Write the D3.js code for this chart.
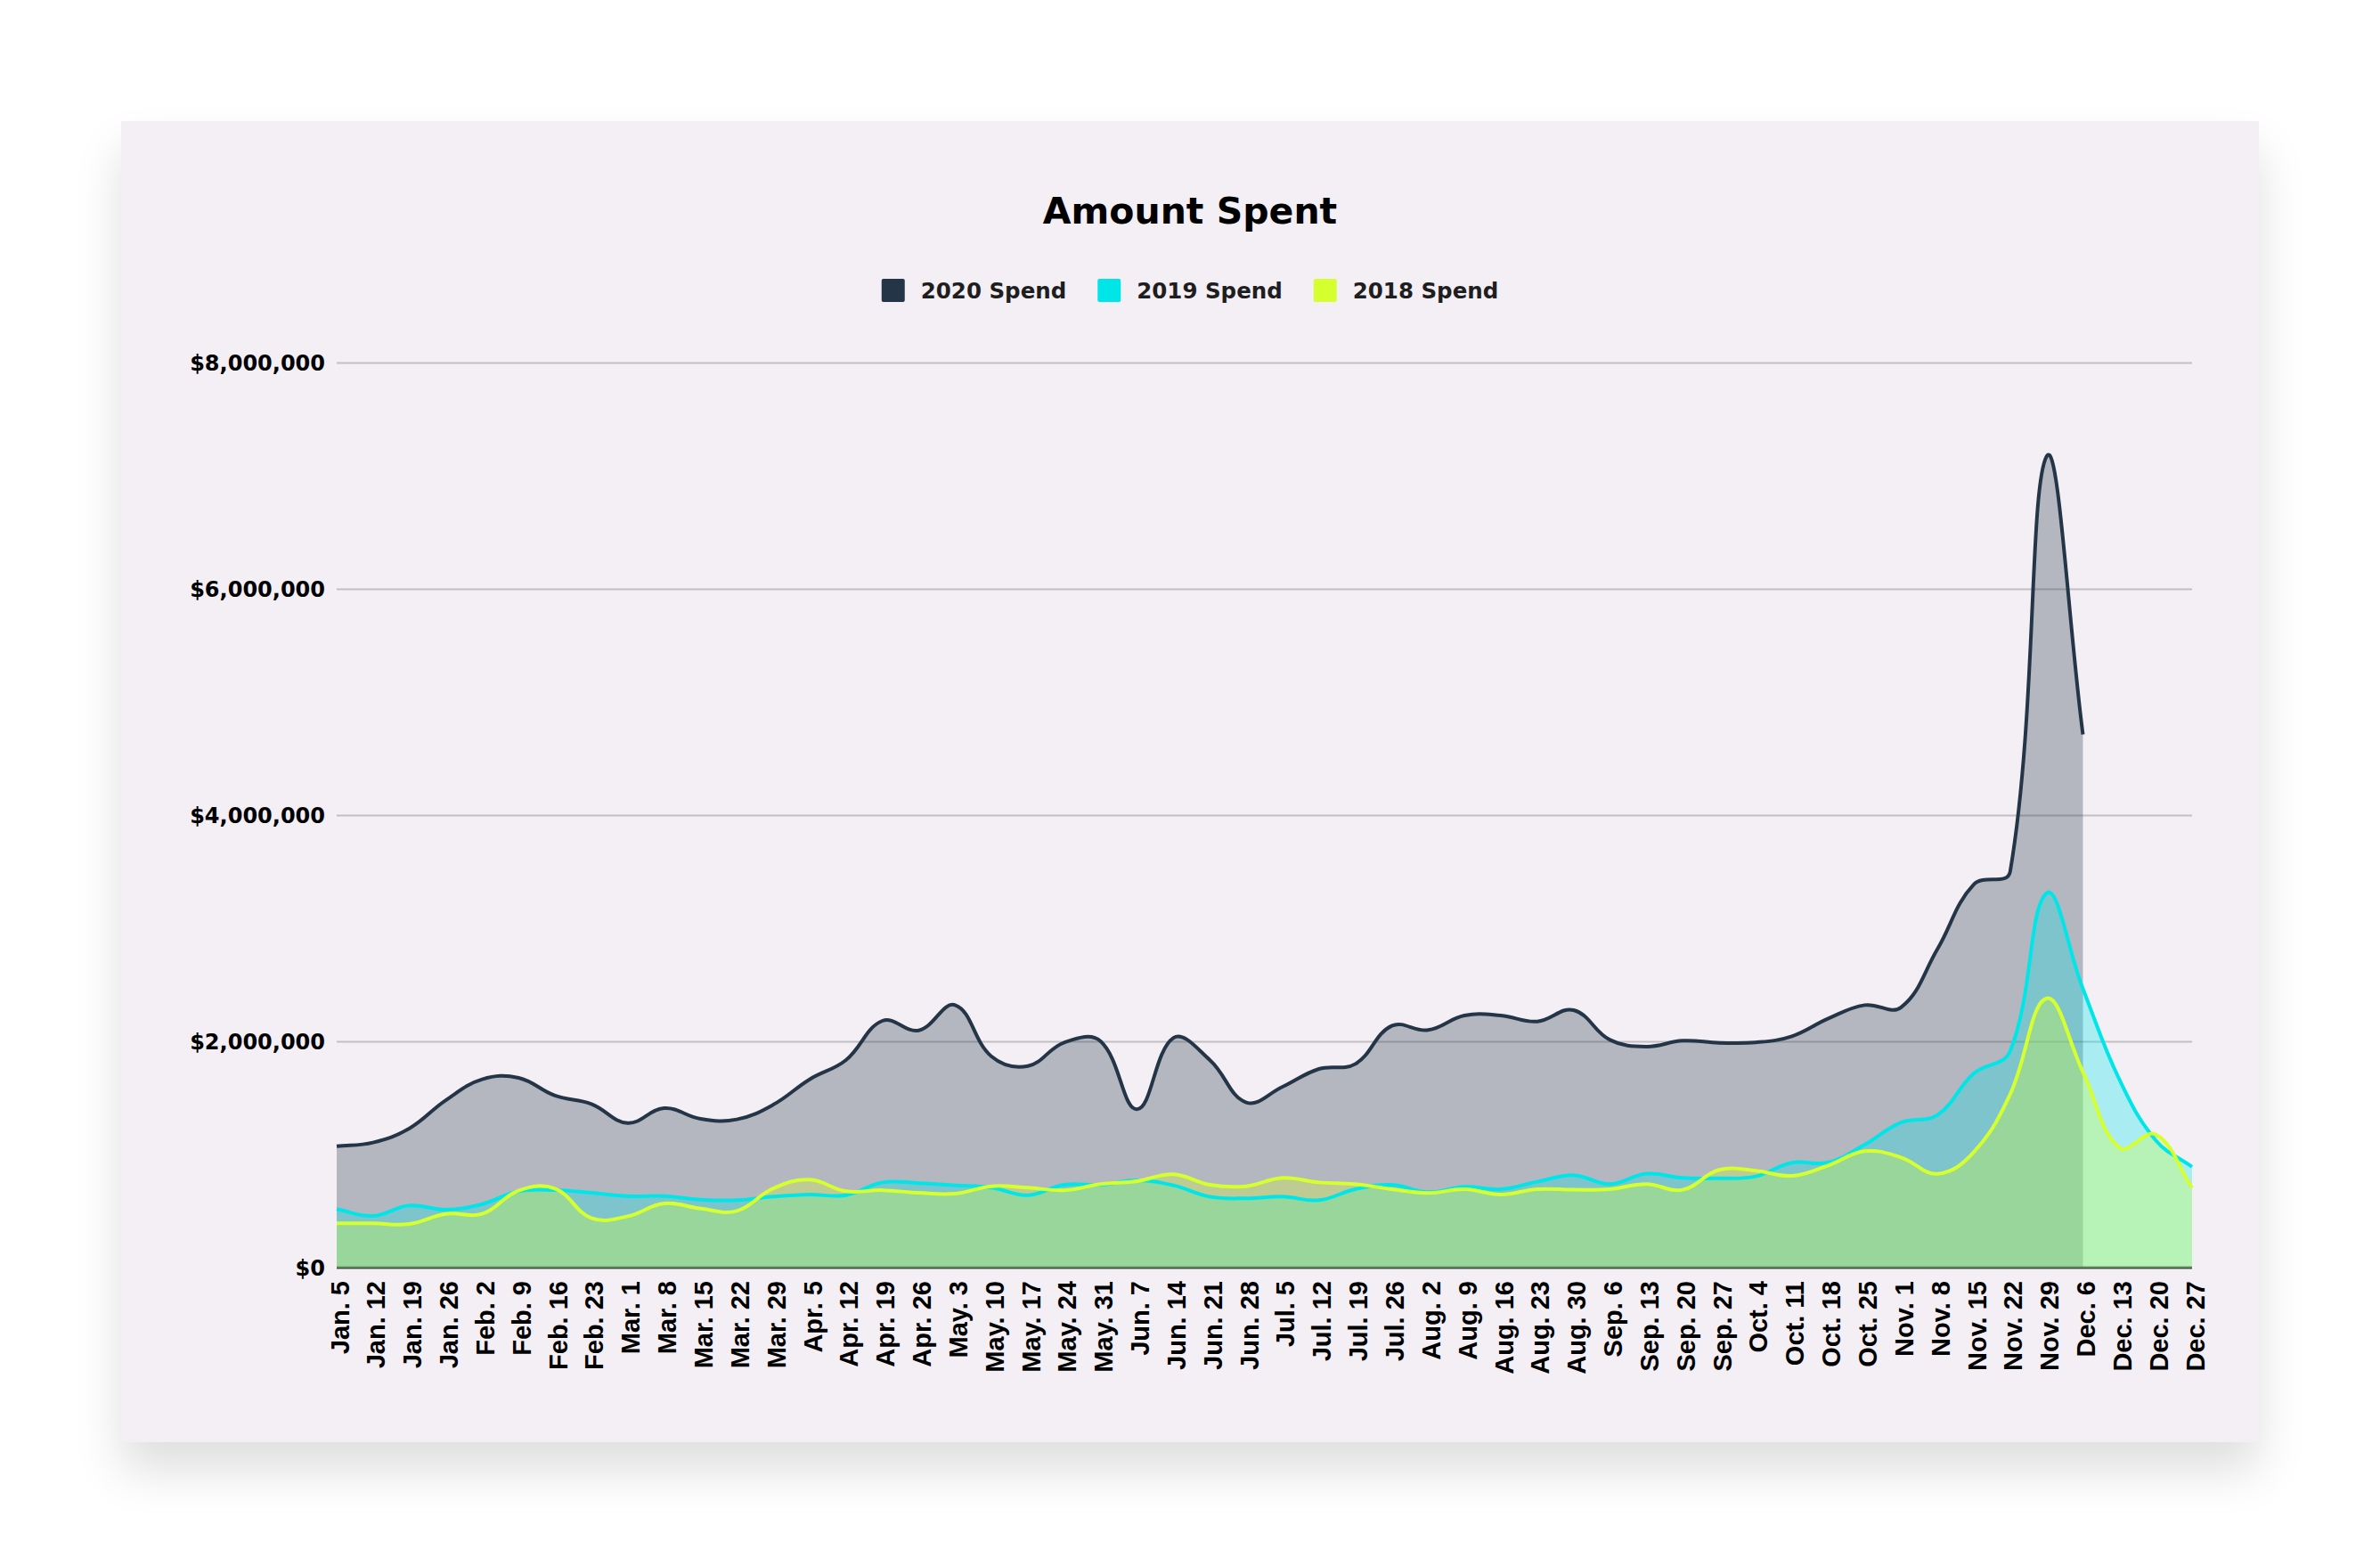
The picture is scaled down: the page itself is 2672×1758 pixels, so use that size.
<!DOCTYPE html>
<html>
<head>
<meta charset="utf-8">
<script src="https://cdn.jsdelivr.net/npm/d3@7"></script>
<style>
  html, body { margin: 0; padding: 0; background: #ffffff; }
  body { width: 2672px; height: 1758px; position: relative; overflow: hidden; }
  #card { position: absolute; left: 136px; top: 136px; width: 2400px; height: 1483px;
          background: #f3eff5; box-shadow: 0 32px 50px rgba(0,0,0,0.13); }
  svg { position: absolute; left: 0; top: 0; }
</style>
</head>
<body>
<div id="card"></div>
<svg id="chart" width="2672" height="1758"></svg>
<script>
const weeks = ["Jan. 5","Jan. 12","Jan. 19","Jan. 26","Feb. 2","Feb. 9","Feb. 16","Feb. 23",
  "Mar. 1","Mar. 8","Mar. 15","Mar. 22","Mar. 29","Apr. 5","Apr. 12","Apr. 19","Apr. 26",
  "May. 3","May. 10","May. 17","May. 24","May. 31","Jun. 7","Jun. 14","Jun. 21","Jun. 28",
  "Jul. 5","Jul. 12","Jul. 19","Jul. 26","Aug. 2","Aug. 9","Aug. 16","Aug. 23","Aug. 30",
  "Sep. 6","Sep. 13","Sep. 20","Sep. 27","Oct. 4","Oct. 11","Oct. 18","Oct. 25",
  "Nov. 1","Nov. 8","Nov. 15","Nov. 22","Nov. 29","Dec. 6","Dec. 13","Dec. 20","Dec. 27"];

const spend2020 = [1073000,1105000,1231000,1480000,1664000,1677000,1520000,1446000,
  1278000,1409000,1315000,1310000,1440000,1664000,1835000,2181000,2097000,
  2320000,1866000,1782000,1990000,2000000,1400000,2030000,1835000,1460000,
  1598000,1756000,1800000,2137000,2100000,2228000,2228000,2176000,2276000,
  2013000,1953000,2005000,1987000,1990000,2045000,2202000,2320000,
  2300000,2815000,3387000,3500000,7170000,4713000];

const spend2019 = [517000,457000,549000,512000,561000,675000,685000,661000,
  632000,632000,601000,596000,628000,646000,640000,753000,747000,
  727000,706000,640000,732000,732000,772000,727000,627000,612000,
  627000,596000,693000,732000,667000,714000,693000,759000,816000,
  738000,830000,793000,790000,806000,927000,929000,1087000,
  1283000,1349000,1717000,1913000,3310000,2465000,1664000,1126000,890000];

const spend2018 = [391000,391000,386000,475000,475000,680000,698000,438000,
  454000,567000,522000,501000,700000,777000,675000,684000,661000,
  653000,719000,706000,684000,738000,764000,824000,732000,719000,
  793000,753000,738000,693000,659000,693000,646000,693000,688000,
  693000,738000,688000,864000,857000,811000,903000,1029000,
  974000,829000,1020000,1533000,2380000,1730000,1060000,1178000,706000];

const yTicks = [0, 2000000, 4000000, 6000000, 8000000];

const seriesNames = ["2020 Spend", "2019 Spend", "2018 Spend"];
const seriesColors = ["#243547", "#00e5e8", "#d6ff30"];

const svg = d3.select("#chart");
const L = 378, R = 2461, T = 407, B = 1423;

const x = d3.scalePoint().domain(weeks).range([L, R]);
const y = d3.scaleLinear().domain([0, 8000000]).range([B, T]);

// Chart.js-like spline (tension 0.4) as a d3 curve
function makeSpline(tension, bounds) {
  function Spline(context) { this._context = context; }
  Spline.prototype = {
    areaStart() { this._line = 0; },
    areaEnd() { this._line = NaN; },
    lineStart() { this._pts = []; },
    point(px, py) { this._pts.push([+px, +py]); },
    lineEnd() {
      const p = this._pts, n = p.length, c = this._context;
      if (n) {
        if (this._line) c.lineTo(p[0][0], p[0][1]); else c.moveTo(p[0][0], p[0][1]);
        const cpPrev = [], cpNext = [];
        for (let i = 0; i < n; i++) {
          const cur = p[i], prev = p[i - 1] || cur, next = p[i + 1] || cur;
          const d01 = Math.hypot(cur[0] - prev[0], cur[1] - prev[1]);
          const d12 = Math.hypot(next[0] - cur[0], next[1] - cur[1]);
          let s01 = d01 / (d01 + d12), s12 = d12 / (d01 + d12);
          if (!isFinite(s01)) s01 = 0; if (!isFinite(s12)) s12 = 0;
          const fa = tension * s01, fb = tension * s12;
          const cap = (v, lo, hi) => Math.max(lo, Math.min(hi, v));
          cpPrev.push([cap(cur[0] - fa * (next[0] - prev[0]), bounds[0], bounds[1]),
                       cap(cur[1] - fa * (next[1] - prev[1]), bounds[2], bounds[3])]);
          cpNext.push([cap(cur[0] + fb * (next[0] - prev[0]), bounds[0], bounds[1]),
                       cap(cur[1] + fb * (next[1] - prev[1]), bounds[2], bounds[3])]);
        }
        for (let i = 1; i < n; i++) {
          c.bezierCurveTo(cpNext[i - 1][0], cpNext[i - 1][1], cpPrev[i][0], cpPrev[i][1], p[i][0], p[i][1]);
        }
      }
      if (this._line || (this._line !== 0 && n === 1)) c.closePath();
      this._line = 1 - this._line;
    }
  };
  return ctx => new Spline(ctx);
}
const curve = makeSpline(0.4, [L, R, 0, B]);

// Gridlines
const grid = svg.append("g").attr("transform", `translate(${L},0)`)
  .call(d3.axisLeft(y).tickValues(yTicks.filter(d => d > 0)).tickSize(-(R - L)).tickFormat(""));
grid.select(".domain").remove();
grid.selectAll("line").attr("stroke", "rgba(0,0,0,0.2)").attr("stroke-width", 2);

// zero axis line (under fills)
svg.append("line").attr("x1", L).attr("x2", R).attr("y1", y(0)).attr("y2", y(0))
  .attr("stroke", "#4a4a4a").attr("stroke-width", 3);

const datasets = [spend2020, spend2019, spend2018];

const area = d3.area()
  .x((d, i) => x(weeks[i])).y0(y(0)).y1(d => y(d)).curve(curve);
const line = d3.line()
  .x((d, i) => x(weeks[i])).y(d => y(d)).curve(curve);

datasets.forEach((data, k) => {
  svg.append("path").datum(data).attr("d", area)
    .attr("fill", seriesColors[k]).attr("fill-opacity", 0.3).attr("stroke", "none");
});
datasets.forEach((data, k) => {
  svg.append("path").datum(data).attr("d", line)
    .attr("fill", "none").attr("stroke", seriesColors[k]).attr("stroke-width", 4)
    .attr("stroke-linejoin", "round");
});

// Y axis labels
const yAxis = svg.append("g").attr("transform", `translate(${L},0)`)
  .call(d3.axisLeft(y).tickValues(yTicks).tickSize(0).tickPadding(13)
    .tickFormat(d => "$" + d3.format(",")(d)));
yAxis.select(".domain").remove();
yAxis.selectAll("text").attr("font-family", "'DejaVu Sans', sans-serif")
  .attr("font-weight", "bold").attr("font-size", 24).attr("fill", "#000").attr("dy", "0.34em");

// X axis labels
const xAxis = svg.append("g").attr("transform", `translate(0,${B})`)
  .call(d3.axisBottom(x).tickSize(0));
xAxis.select(".domain").remove();
xAxis.selectAll("text")
  .attr("font-family", "'Liberation Sans', Arial, sans-serif").attr("font-weight", "bold")
  .attr("font-size", 29).attr("fill", "#000")
  .attr("transform", "rotate(-90)").attr("text-anchor", "end")
  .attr("x", -15).attr("y", 0).attr("dy", "0.45em");

// Title
const cx = 1336;
svg.append("text").attr("x", cx).attr("y", 251).attr("text-anchor", "middle")
  .attr("font-family", "'DejaVu Sans', sans-serif").attr("font-weight", "bold")
  .attr("font-size", 41).attr("fill", "#000").text("Amount Spent");

// Legend
const legend = svg.append("g");
const items = seriesNames.map((name, k) => {
  const g = legend.append("g");
  g.append("rect").attr("width", 26).attr("height", 26).attr("rx", 2).attr("y", 313)
    .attr("fill", seriesColors[k]);
  const t = g.append("text").attr("y", 335).attr("font-family", "'DejaVu Sans', sans-serif")
    .attr("font-weight", "bold").attr("font-size", 24.5).attr("fill", "#1e1e1e").text(name);
  return { g, t, w: t.node().getComputedTextLength() };
});
const boxW = 26, gapBT = 18, gapItem = 35;
const total = d3.sum(items, d => boxW + gapBT + d.w) + gapItem * (items.length - 1);
let pos = cx - total / 2;
items.forEach(it => {
  it.g.select("rect").attr("x", pos);
  it.t.attr("x", pos + boxW + gapBT);
  pos += boxW + gapBT + it.w + gapItem;
});
</script>
</body>
</html>
